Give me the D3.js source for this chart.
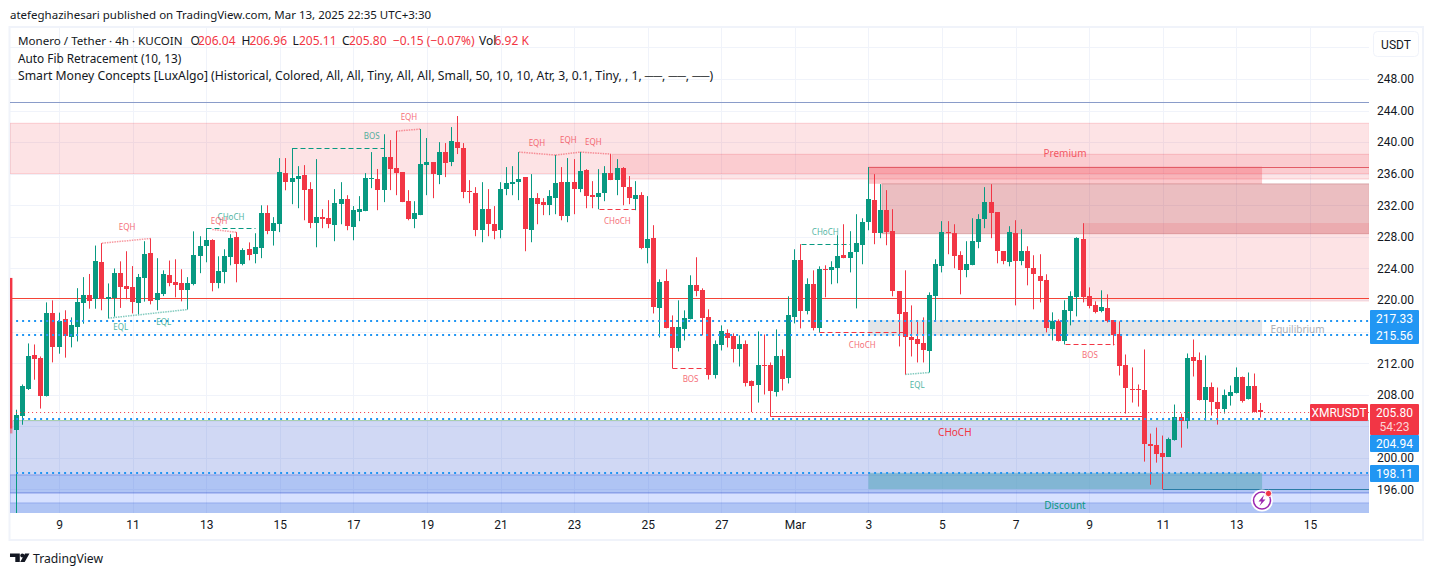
<!DOCTYPE html>
<html>
<head>
<meta charset="utf-8">
<title>XMRUSDT</title>
<script src="https://cdn.jsdelivr.net/npm/d3@7"></script>
<style>
  html, body { margin: 0; padding: 0; background: #fff; }
  svg { display: block; font-family: "Noto Sans", sans-serif; }
  text { fill: #131722; }
</style>
</head>
<body>
<svg id="svg" width="1433" height="576"></svg>
<script>
// 4h candles
const opens = [203.59,205.24,208.66,212.98,212.6,207.78,218.3,214.1,217.55,215.3,216.5,219.6,220.6,220.1,224.8,220.1,220.2,223.4,221.74,221.6,219.6,222.75,225.9,219.96,220.7,223.13,222.24,222.1,221.23,222,225.67,226.8,227.57,222.1,223.5,225.4,227.95,224.53,226.43,225.8,226.56,231,228.7,229.6,236.08,234.93,235.3,235.82,234.05,229.73,230.49,230.36,229.48,232.14,232.78,229.2,231.13,231.25,235.3,235.3,233.92,238.1,236.7,236.2,232.52,230.24,230.75,237.09,237.47,235.82,238.74,237.47,240,239.25,233.79,233.54,228.84,231.51,229.6,228.84,234.05,234.68,234.93,235.57,228.84,232.9,232.4,232,232.9,234.93,230.62,234.93,234.05,236.46,233.28,233.03,233.54,236.08,235.19,236.7,234.3,232.78,233.28,226.56,227.83,218.94,222.37,216.53,213.87,216.28,217.55,221.86,221.23,217.8,210.44,214.25,215.77,215.39,213.74,214.37,209.68,209.17,211.71,211.71,208.28,212.85,210.06,217.8,225.03,218.56,222,216.41,223.89,223.76,224.02,225.67,225.29,226.05,226.94,229.86,232.65,228.46,231.38,228.72,221.1,218.43,215.26,215,214.5,213.49,220.47,224.27,228.59,228.46,225.67,223.76,224.4,227.32,230.24,232.4,231.13,226.18,224.78,228.46,224.91,226.18,224.02,223,222.5,216.28,217.29,214.75,218.56,220.34,227.7,220.47,219.32,218.56,218.94,217.42,215.65,211.71,208.79,208.79,208.66,201.81,201.68,200.67,200.16,202.32,205.24,204.6,212.73,212.35,207.27,208.92,207.14,206.25,207.9,208.28,210.31,207.4,209.05,206.04];
const highs = [206.1,209.3,214.5,214.37,212.85,219.7,219.96,218.4,218.7,217.8,221.5,222.9,223.3,226.9,227.2,222.1,224,224.9,226.18,224.3,223.3,227.45,227.8,225.3,223.76,225,225.16,223.9,222.9,228.7,228.08,229.1,227.7,225.54,226.43,228.34,228.6,226.56,227.3,228.46,232,232,230.5,237.98,237.98,239.25,236.96,237.09,234.93,237.85,231.51,232.65,234.05,234.93,233.28,231.9,233.16,236.08,238.74,236.6,241,240.26,241.4,236.2,233.92,232.52,241.66,240.52,237.47,240,239.88,241.91,243.31,239.88,235.19,234.3,234.93,234.05,231.9,234.93,236.84,236.96,238.74,235.57,235.95,233.54,232.9,233.92,238.36,236.84,237.98,237.85,238.74,236.58,235.06,236.58,236.96,238.49,237.85,236.84,235.7,235.06,233.66,233.16,229.48,222.62,223.89,218.05,219.96,218.69,223.13,225.42,221.48,218.82,214.88,216.79,216.28,215.77,215.52,214.88,209.81,216.02,215.64,212.09,216.28,213.74,220.47,226.43,227.07,222.75,223.76,224.27,224.4,224.91,228.21,229.6,228.72,230.87,230.36,236.84,235.95,234.68,233.92,231.51,221.1,223.76,219.32,217.42,217.8,220.97,225.16,229.99,229.99,229.6,226.18,227.45,230.36,230.87,234.3,234.68,231.13,226.18,229.35,230.11,228.97,226.81,225.67,225.8,223.26,218.44,217.55,219.96,221.1,227.95,229.73,221.6,219.83,221.23,220.72,217.42,217.29,213.1,211.46,209.3,213.74,203.08,203.84,202.83,202.57,206.76,205.62,213.23,215,213.36,212.98,209.55,208.92,208.66,209.17,211.46,210.31,210.82,210.69,206.96];
const lows = [192,204.2,208.6,209.9,206.25,207.78,212.1,213.2,212.7,214,214.75,217,218.9,218.9,218.7,217.7,217.9,219,220.1,218.3,218.2,219.8,219.45,218.7,220.5,221.74,220.34,219.83,218.8,221.86,223.4,224.78,221.1,221.48,222.1,224.4,222.24,224.4,225.03,224.65,225.3,228.34,226.9,228.6,233.9,232.14,231.63,230.1,229.1,226.68,229.1,229.1,227.45,229.6,228.84,227.57,229.99,231.25,234.17,231.38,232.4,233.92,233.28,232.4,230.1,229.1,230.75,233.28,232.9,234.68,235.57,236.96,238.49,232.9,232.27,228.08,227.32,228.08,227.7,227.83,233.28,233.28,232.65,226.18,227.32,229.6,230.75,230.75,230.87,230.1,229.86,230.87,233.66,231.63,231.63,231.5,232.52,235.19,233.28,232,232.14,231.38,226.43,224.65,218.3,215.26,216.41,211.33,213.49,214.88,217.55,220.47,215.52,209.93,210.06,213.61,214,212.09,211.58,209.05,205.8,207.01,208.03,205.3,207.78,208.54,209.43,217.04,216.41,218.18,216.15,215.9,220.34,222,222.12,225.29,223.5,218.94,224.53,228.84,227.07,227.83,226.94,220.47,214.12,210.57,212.85,212.09,212.09,210.82,217.42,223.5,225.8,224.02,220.72,222.88,224.4,226.56,229.1,227.83,224.65,224.53,224.27,219.32,224.4,221.86,218.82,219.7,215.9,214.88,214.75,214.37,216.79,217.93,219.7,218.94,218.31,218.44,217.16,214.25,210.44,205.62,207.01,206.5,199.53,196.6,199.4,196.03,200.16,202.19,201.3,203.71,210.31,207.27,204.73,205.37,204.22,205.62,206.63,208.16,207.01,207.4,205.75,205.11];
const closes = [205.49,209.05,212.85,212.47,207.78,218.3,214,217.4,215.4,216.8,219.7,220.6,219.8,224.9,220.1,220.34,223.4,221.6,221.35,219.7,222.9,225.8,219.8,220.85,223.26,222.1,221.86,221.23,222.1,225.67,226.9,227.57,222.1,223.64,225.54,227.83,224.53,226.3,225.67,226.68,231,228.7,229.73,236.2,234.9,235.44,235.7,233.92,229.73,230.49,230.24,229.6,232.27,232.78,229.36,231.38,231.5,235.44,235.44,233.92,238.1,236.58,236.08,232.4,230.24,231,237.2,237.47,235.95,238.74,237.34,240.14,239.25,233.66,233.66,228.84,231.51,229.6,228.7,234.05,234.8,234.93,235.3,228.97,232.9,232.14,232,233.16,234.8,230.62,234.93,234.05,236.33,233.16,233.03,233.54,236.08,235.19,236.7,234.3,232.9,233.28,226.56,227.7,219.07,222.24,216.41,213.87,216.53,217.67,221.86,221.1,217.67,210.44,214.37,216.02,215.14,213.74,214.37,209.43,209.05,211.71,211.58,208.41,212.85,209.93,218.05,225.03,218.56,222,216.41,223.89,223.76,224.15,225.54,225.29,226.05,227.19,229.86,232.78,228.46,231.38,228.59,221.1,218.18,215.26,214.88,214.37,213.61,220.6,224.53,228.59,228.46,225.54,223.76,224.53,227.45,230.24,232.4,231,226.18,224.91,228.59,224.91,226.18,224.02,223.26,222.37,216.41,217.29,214.75,218.69,220.47,227.83,220.34,219.2,218.44,219.07,217.29,215.52,211.58,208.79,208.66,208.66,201.81,201.56,200.54,200.16,202.44,205.24,204.73,212.6,212.22,207.27,208.92,207.01,206.25,208.03,208.41,210.31,207.27,209.05,205.75,205.8];

// axes
const dayIndex = [7,19,31,43,55,67,79,91,103,115,127,139,151,163,175,187,199,211];
const dayLabels = ["9","11","13","15","17","19","21","23","25","27","Mar","3","5","7","9","11","13","15"];
const priceTicks = [196,200,208,212,220,224,228,232,236,240,244,248];
const gridPrices = [196,200,204,208,212,216,220,224,228,232,236,240,244,248,252];

// zones: name, first candle, last candle, top price, bottom price
const zones = [
  ["premium", -1, 220.7, 242.39, 236.02],
  ["supply1", 97.2, 220.7, 238.46, 235.33],
  ["supply2", 139, 203.2, 236.9, 234.72],
  ["supply3", 141.2, 220.7, 234.72, 228.4],
  ["supply4", 174, 220.7, 229.76, 219.79],
  ["middle", 139, 203.2, 217.46, 215.5],
  ["discount", -1, 220.7, 204.7, 197.84],
  ["demand1", -1, 220.7, 197.84, 195.56],
  ["demand2", -1, 220.7, 195.56, 194.3],
  ["demand3", -1, 220.7, 194.3, 193],
  ["demand4", 139, 203.2, 198.11, 196.03]
];

// structure breaks: kind, from candle, to candle, price
const breaks = [
  ["up", 31, 39, 229.09],
  ["up", 45, 60, 239.25],
  ["down", 95, 101, 231.5],
  ["down", 107, 113, 211.33],
  ["up", 128, 136, 227.07],
  ["down", 131, 145, 215.9],
  ["down", 171, 179, 214.37]
];

// equal highs and lows: kind, from candle, price, to candle, price
const equals = [
  ["high", 14, 227.2, 22, 227.8],
  ["high", 32, 228.94, 36, 228.58],
  ["high", 62, 241.4, 66, 241.66],
  ["high", 82, 238.74, 88, 238.36],
  ["high", 88, 238.36, 92, 238.74],
  ["high", 92, 238.74, 97, 238.49],
  ["low", 15, 217.7, 28, 218.8],
  ["low", 145, 210.57, 149, 210.82]
];

// text on the chart: text, candle, price, kind
const notes = [
  ["EQH", 18.1, 229.29, "down"], ["EQL", 17.06, 216.62, "up"], ["EQL", 24.07, 217.26, "up"],
  ["CHoCH", 35.05, 230.56, "up"], ["EQH", 33.1, 230.05, "down"], ["BOS", 58, 240.82, "up"],
  ["EQH", 64.07, 243.22, "down"], ["EQH", 84.95, 239.93, "down"], ["EQH", 90.05, 240.31, "down"],
  ["EQH", 94.13, 240.11, "down"], ["CHoCH", 98.05, 230.05, "down"], ["BOS", 110, 210.03, "down"],
  ["CHoCH", 131.96, 228.66, "up"], ["CHoCH", 138, 214.34, "down"], ["EQL", 146.96, 209.36, "up"],
  ["BOS", 175.13, 213.13, "down"]
];

const bluePrices = [217.33, 215.56, 204.94, 198.11];
const lastPrice = 205.8;
const countdown = "54:23";
const topLine = 245.08;
const swingLine = 220.25;
const greyLine = 204.8;
const supplyLine = 236.9;
const demandLine = 196.03;
const chochLine = 205.3;
const barTop = 222.8, barBottom = 203.7, barFade = 203.1;

const legendParts = [
  ["Monero / Tether · 4h · KUCOIN", "O", "206.04", "H", "206.96", "L", "205.11", "C", "205.80", "−0.15 (−0.07%)", "Vol", "6.92 K"],
  ["Auto Fib Retracement (10, 13)"],
  ["Smart Money Concepts [LuxAlgo] (Historical, Colored, All, All, Tiny, All, All, Small, 50, 10, 10, Atr, 3, 0.1, Tiny, , 1, ──, ──, ──)"]
];

const up = "#089981", down = "#F23645", blue = "#2196F3";
const svg = d3.select("#svg");

const paneLeft = 10, paneRight = 1369, paneTop = 28, paneBottom = 513;
// one candle is 6.132 px wide, first candle centred at 16.1
const x = d3.scaleLinear().domain([-0.995, 220.64]).range([paneLeft, paneRight]);
const y = d3.scaleLinear().domain([254.46, 193.02]).range([paneTop, paneBottom]);
const sharp = v => Math.round(v) + 0.5;

// frame
svg.append("rect").attr("x", 9.5).attr("y", 27).attr("width", 1413.5).attr("height", 513)
  .attr("fill", "none").attr("stroke", "#f0f3fa").attr("stroke-width", 2);

const defs = svg.append("defs");
defs.append("clipPath").attr("id", "pane").append("rect")
  .attr("x", paneLeft).attr("y", paneTop).attr("width", paneRight - paneLeft).attr("height", paneBottom - paneTop);

const pane = svg.append("g").attr("clip-path", "url(#pane)");

// grid
pane.selectAll(".gx").data(dayIndex).join("line")
  .attr("x1", d => sharp(x(d))).attr("x2", d => sharp(x(d)))
  .attr("y1", paneTop).attr("y2", paneBottom)
  .attr("stroke", "#f0f3fa");
pane.selectAll(".gy").data(gridPrices).join("line")
  .attr("x1", paneLeft).attr("x2", paneRight)
  .attr("y1", d => sharp(y(d))).attr("y2", d => sharp(y(d)))
  .attr("stroke", "#f0f3fa");

// zones
const zoneFill = {
  premium: "rgba(242,54,69,0.14)", supply1: "rgba(242,54,69,0.13)", supply2: "rgba(242,54,69,0.28)",
  supply3: "rgba(190,40,50,0.3)", supply4: "rgba(242,54,69,0.14)", middle: "rgba(120,123,134,0.2)",
  discount: "rgba(60,90,210,0.24)", demand1: "rgba(45,100,225,0.38)", demand2: "rgba(41,98,255,0.19)",
  demand3: "rgba(45,100,225,0.38)", demand4: "rgba(100,173,190,0.6)"
};
const zoneEdge = {
  premium: "rgba(242,54,69,0.2)", supply1: "rgba(242,54,69,0.2)", supply2: "none",
  supply3: "rgba(150,30,40,0.25)", supply4: "none", middle: "none",
  discount: "rgba(60,90,210,0.15)", demand1: "rgba(60,90,210,0.3)", demand2: "rgba(60,90,210,0.3)",
  demand3: "none", demand4: "none"
};
pane.selectAll(".zone").data(zones).join("rect")
  .attr("x", d => x(d[1])).attr("width", d => x(d[2]) - x(d[1]))
  .attr("y", d => y(d[3])).attr("height", d => y(d[4]) - y(d[3]))
  .attr("fill", d => zoneFill[d[0]]).attr("stroke", d => zoneEdge[d[0]]);

// red bar on the left edge
pane.append("rect").attr("x", paneLeft).attr("width", 2.4)
  .attr("y", y(barTop)).attr("height", y(barBottom) - y(barTop)).attr("fill", down);
pane.append("rect").attr("x", paneLeft).attr("width", 2.4)
  .attr("y", y(barBottom)).attr("height", y(barFade) - y(barBottom)).attr("fill", down).attr("opacity", 0.5);

const hline = (price, from, to, color, width) => pane.append("line")
  .attr("x1", x(from)).attr("x2", x(to)).attr("y1", sharp(y(price))).attr("y2", sharp(y(price)))
  .attr("stroke", color).attr("stroke-width", width || 1);

hline(topLine, -1, 220.7, "#8a9cc9");
hline(swingLine, -0.7, 220.7, "#F44336");
hline(greyLine, -0.5, 220.7, "#a9cfae");
hline(supplyLine, 139, 220.7, "#e25c66");
hline(chochLine, 123, 184, down);
pane.append("line").attr("x1", sharp(x(123))).attr("x2", sharp(x(123)))
  .attr("y1", y(lastPrice)).attr("y2", sharp(y(chochLine))).attr("stroke", down);
hline(demandLine, 187, 220.7, "#2a7ca6");

// structure breaks
pane.selectAll(".break").data(breaks).join("line")
  .attr("x1", d => sharp(x(d[1]))).attr("x2", d => sharp(x(d[2])))
  .attr("y1", d => sharp(y(d[3]))).attr("y2", d => sharp(y(d[3])))
  .attr("stroke", d => d[0] === "up" ? up : down)
  .attr("stroke-dasharray", "5,3");

// equal highs / lows
pane.selectAll(".equal").data(equals).join("line")
  .attr("x1", d => x(d[1])).attr("y1", d => y(d[2]))
  .attr("x2", d => x(d[3])).attr("y2", d => y(d[4]))
  .attr("stroke", d => d[0] === "high" ? down : up)
  .attr("stroke-width", 1.5).attr("stroke-dasharray", "1.5,1").attr("opacity", 0.5);

// candles
const candles = d3.range(opens.length);
const colour = i => closes[i] >= opens[i] ? up : down;
pane.selectAll(".wick").data(candles).join("line")
  .attr("x1", i => sharp(x(i) - 0.5)).attr("x2", i => sharp(x(i) - 0.5))
  .attr("y1", i => y(highs[i])).attr("y2", i => y(lows[i]))
  .attr("stroke", colour);
pane.selectAll(".body").data(candles).join("rect")
  .attr("x", i => Math.round(x(i) - 0.5) - 2).attr("width", 5)
  .attr("y", i => Math.round(y(Math.max(opens[i], closes[i]))))
  .attr("height", i => Math.max(1, Math.round(Math.abs(y(opens[i]) - y(closes[i])))))
  .attr("fill", colour);

// dotted price lines
pane.selectAll(".blue").data(bluePrices).join("line")
  .attr("x1", x(0)).attr("x2", paneRight)
  .attr("y1", d => Math.round(y(d))).attr("y2", d => Math.round(y(d)))
  .attr("stroke", blue).attr("stroke-width", 2).attr("stroke-dasharray", "2,4");
hline(lastPrice, 0, 220.7, down).attr("stroke-dasharray", "1,3");

// notes
pane.selectAll(".note").data(notes).join("text")
  .attr("x", d => x(d[1])).attr("y", d => y(d[2]))
  .attr("text-anchor", "middle").attr("dominant-baseline", "central")
  .attr("font-size", 8).attr("opacity", 0.72)
  .style("fill", d => d[3] === "up" ? up : down)
  .text(d => d[0]);

const bigNote = (t, i, p, color, size) => pane.append("text")
  .attr("x", x(i)).attr("y", y(p)).attr("text-anchor", "middle").attr("dominant-baseline", "central")
  .attr("font-size", size).style("fill", color).text(t);
bigNote("Premium", 171.06, 238.63, down, 10).attr("opacity", 0.8);
bigNote("Equilibrium", 209, 216.33, "#787b86", 10).attr("opacity", 0.6);
bigNote("Discount", 171.06, 194.03, up, 10);
bigNote("CHoCH", 153.1, 203.32, down, 10);

// lightning mark
const mark = svg.append("g").attr("transform", "translate(1262,500.5)");
mark.append("circle").attr("r", 11).attr("fill", "#fff");
mark.append("circle").attr("r", 8.5).attr("fill", "#fff").attr("stroke", "#9c27b0").attr("stroke-width", 1.5);
mark.append("path").attr("d", "M2,-5.5 L-3.5,1 L-0.5,1 L-2.5,5.5 L3.5,-1 L0.5,-1 Z").attr("fill", "#9c27b0");
mark.append("circle").attr("cx", 6.5).attr("cy", -7).attr("r", 3.2).attr("fill", down).attr("stroke", "#fff");

// axes
const axisFont = "Roboto, sans-serif";
const yAxis = d3.axisRight(y).tickValues(priceTicks).tickFormat(d3.format(".2f")).tickSize(0).tickPadding(0);
const yGroup = svg.append("g").attr("transform", `translate(${paneRight + 8},0)`).call(yAxis);
yGroup.select(".domain").remove();
yGroup.selectAll("text").attr("font-size", 12).attr("font-family", axisFont);

const xAxis = d3.axisBottom(x).tickValues(dayIndex).tickFormat((d, i) => dayLabels[i]).tickSize(0).tickPadding(0);
const xGroup = svg.append("g").attr("transform", `translate(0,${paneBottom + 7})`).call(xAxis);
xGroup.select(".domain").remove();
xGroup.selectAll("text").attr("font-size", 12).attr("font-family", axisFont);

// price tags
const tag = (px, py, w, h, fill) => svg.append("rect").attr("x", px).attr("y", py).attr("width", w).attr("height", h).attr("rx", 1).attr("fill", fill);
const tagText = (t, py, color, px) => svg.append("text").attr("x", px || 1394.5).attr("y", py)
  .attr("text-anchor", "middle").attr("dominant-baseline", "central").attr("font-family", axisFont)
  .attr("font-size", 12).style("fill", color || "#fff").text(t);

tag(1370, 310, 49, 34, blue);
tagText(d3.format(".2f")(bluePrices[0]), 319);
tagText(d3.format(".2f")(bluePrices[1]), 335.5);
tag(1370, 435, 49, 17, blue);
tagText(d3.format(".2f")(bluePrices[2]), 444);
tag(1370, 465, 49, 17, blue);
tagText(d3.format(".2f")(bluePrices[3]), 473.5);
tag(1370, 404, 49, 31, down);
tagText(d3.format(".2f")(lastPrice), 412.5);
tagText(countdown, 427, "#fcd4d7");
tag(1310, 404, 58, 17, down);
tagText("XMRUSDT", 412.5, "#fff", 1339);

// currency button
svg.append("rect").attr("x", 1373.5).attr("y", 31.5).attr("width", 45).attr("height", 25).attr("rx", 4)
  .attr("fill", "#fff").attr("stroke", "#f0f3fa");
svg.append("text").attr("x", 1396).attr("y", 44.5).attr("text-anchor", "middle").attr("dominant-baseline", "central")
  .attr("font-size", 12).attr("font-family", axisFont).text("USDT");

// legend
const firstRowX = [18, 190.5, 198, 241.5, 249.5, 292.5, 299, 342, 349, 393, 479, 494.5];
const firstRowRed = [false, false, true, false, true, false, true, false, true, true, false, true];
legendParts[0].forEach((t, n) => {
  svg.append("text").attr("x", firstRowX[n]).attr("y", 45).attr("font-size", n === 0 ? 11.6 : 12)
    .style("fill", firstRowRed[n] ? down : "#131722").text(t);
});
svg.append("text").attr("x", 18).attr("y", 63).attr("font-size", 11.8).text(legendParts[1][0]);
svg.append("text").attr("x", 18).attr("y", 80).attr("font-size", 12.2).text(legendParts[2][0]);

// caption and logo
svg.append("text").attr("x", 10).attr("y", 18.5).attr("font-size", 11.5).text("atefeghazihesari published on TradingView.com, Mar 13, 2025 22:35 UTC+3:30");
svg.append("path").attr("d", "M10,553.5 h9.8 v8.5 h-4.5 v-5 h-5.3 z M25,553.5 h4.5 l-4.8,8.5 h-4.5 z").attr("fill", "#131722");
svg.append("circle").attr("cx", 22.3).attr("cy", 555.4).attr("r", 2).attr("fill", "#131722");
svg.append("text").attr("x", 33).attr("y", 563).attr("font-size", 13).attr("textLength", 70).attr("lengthAdjust", "spacingAndGlyphs").text("TradingView");
</script>
</body>
</html>
